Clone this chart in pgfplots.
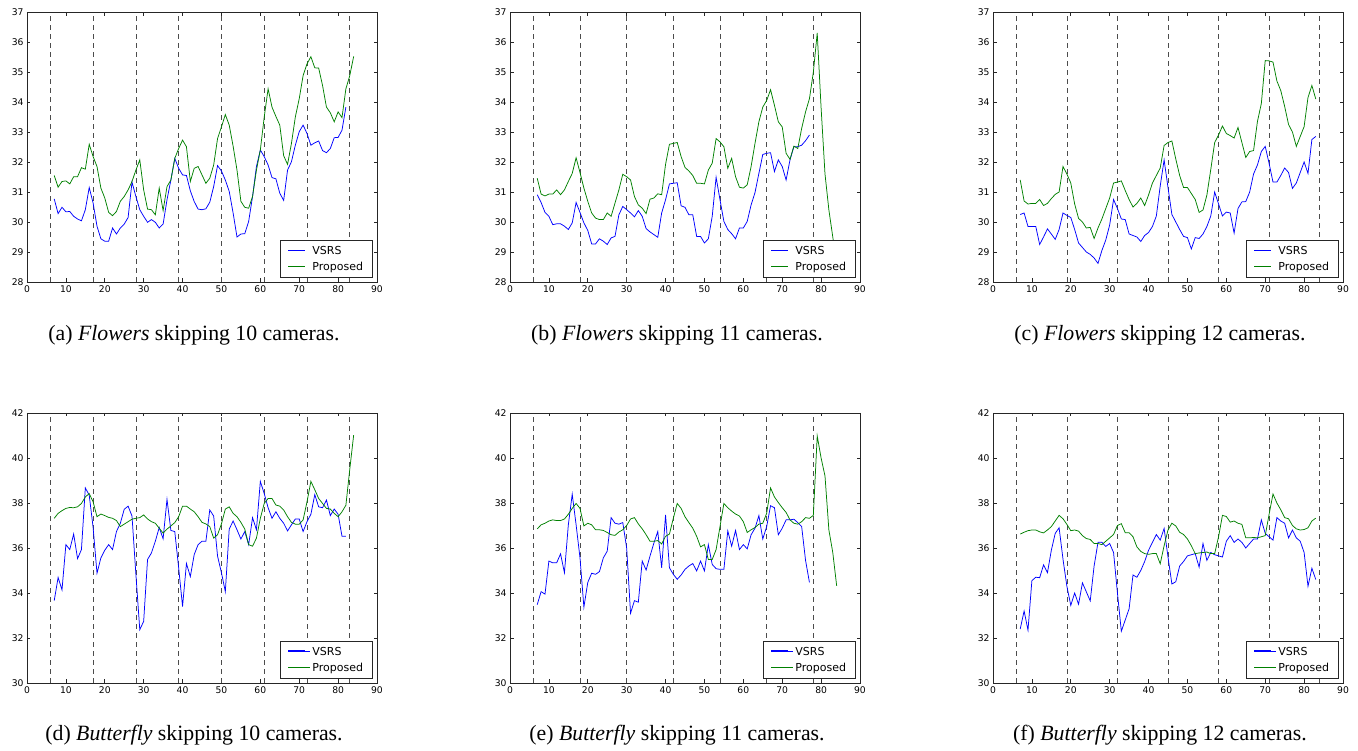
\documentclass[border=0pt]{standalone}
\usepackage{fontspec}
\setmainfont{DejaVu Sans}
\newfontfamily\capfont{Liberation Serif}
\usepackage{pgfplots}
\usepackage{pgfplotstable}
\pgfplotsset{compat=1.18}
\usepgfplotslibrary{groupplots}

\definecolor{vblue}{rgb}{0,0,1}
\definecolor{vgreen}{rgb}{0,0.5,0}
\definecolor{frame}{gray}{0.15}
\definecolor{cutgray}{gray}{0.3}

% Flowers, skipping 10 / 11 / 12 cameras: x, VSRS, Proposed
\pgfplotstableread{
x v p
7 30.77 31.55
8 30.28 31.16
9 30.49 31.35
10 30.34 31.37
11 30.35 31.27
12 30.19 31.51
13 30.10 31.51
14 30.04 31.81
15 30.41 31.76
16 31.15 32.59
17 30.63 32.18
18 29.86 31.85
19 29.44 31.13
20 29.36 30.80
21 29.36 30.32
22 29.80 30.21
23 29.60 30.35
24 29.80 30.69
25 29.93 30.85
26 30.15 31.07
27 31.33 31.35
28 30.85 31.73
29 30.41 32.07
30 30.19 31.07
31 29.99 30.43
32 30.08 30.41
33 29.99 30.24
34 29.80 31.13
35 29.93 30.38
36 30.74 31.18
37 31.40 31.40
38 32.12 32.12
39 31.79 32.45
40 31.57 32.73
41 31.55 32.51
42 31.04 31.35
43 30.68 31.79
44 30.43 31.85
45 30.41 31.57
46 30.44 31.29
47 30.66 31.46
48 31.18 31.90
49 31.88 32.78
50 31.70 33.17
51 31.40 33.58
52 31.02 33.23
53 30.30 32.53
54 29.50 31.73
55 29.60 30.69
56 29.61 30.49
57 30.02 30.46
58 30.85 30.85
59 31.85 31.73
60 32.40 32.40
61 32.18 33.50
62 31.90 34.44
63 31.48 33.83
64 31.44 33.52
65 30.96 33.23
66 30.72 32.21
67 31.73 31.92
68 32.01 32.62
69 32.56 33.50
70 33.01 34.11
71 33.23 34.88
72 32.95 35.27
73 32.56 35.51
74 32.64 35.14
75 32.70 35.13
76 32.38 34.55
77 32.31 33.83
78 32.45 33.64
79 32.81 33.34
80 32.82 33.67
81 33.06 33.48
82 33.83 34.44
83 nan 34.88
84 nan 35.52
}\tabA

\pgfplotstableread{
x v p
7 30.91 31.46
8 30.65 30.93
9 30.32 30.87
10 30.19 30.93
11 29.91 30.93
12 29.94 31.07
13 29.94 30.91
14 29.86 31.07
15 29.75 31.35
16 29.97 31.62
17 30.65 32.14
18 30.32 31.65
19 29.97 31.13
20 29.72 30.69
21 29.27 30.30
22 29.27 30.13
23 29.44 30.08
24 29.36 30.08
25 29.25 30.30
26 29.47 30.19
27 29.52 30.63
28 30.24 31.07
29 30.52 31.59
30 30.41 31.51
31 30.30 31.40
32 30.17 30.85
33 30.38 30.57
34 30.19 30.46
35 29.78 30.28
36 29.67 30.76
37 29.58 30.80
38 29.49 30.94
39 30.30 30.91
40 30.74 31.92
41 31.27 32.59
42 31.29 32.62
43 31.31 32.65
44 30.54 32.18
45 30.49 31.82
46 30.24 31.70
47 30.24 31.55
48 29.52 31.29
49 29.52 31.29
50 29.30 31.27
51 29.44 31.73
52 30.19 31.96
53 31.49 32.78
54 30.74 32.67
55 30.02 32.51
56 29.75 31.79
57 29.61 32.12
58 29.44 31.51
59 29.80 31.16
60 29.80 31.13
61 30.02 31.24
62 30.57 31.85
63 30.98 32.62
64 31.62 33.34
65 32.25 33.83
66 32.29 34.05
67 32.31 34.41
68 31.68 33.89
69 32.07 33.34
70 31.85 33.17
71 31.40 32.29
72 32.07 32.09
73 32.51 32.53
74 32.51 32.45
75 32.56 33.12
76 32.71 33.67
77 32.90 34.11
78 nan 34.99
79 nan 36.30
80 nan 33.80
81 nan 31.60
82 nan 30.40
83 nan 29.50
84 nan 28.60
}\tabB

\pgfplotstableread{
x v p
7 30.25 31.40
8 30.30 30.70
9 29.85 30.60
10 29.85 30.62
11 29.85 30.62
12 29.25 30.75
13 29.50 30.55
14 29.77 30.62
15 29.60 30.78
16 29.42 30.92
17 29.75 31.00
18 30.30 31.85
19 30.22 31.60
20 30.15 31.30
21 29.75 30.60
22 29.30 30.12
23 29.15 30.00
24 29.00 29.80
25 28.92 29.82
26 28.80 29.45
27 28.62 29.80
28 29.05 30.10
29 29.40 30.45
30 29.90 30.80
31 30.75 31.30
32 30.45 31.33
33 30.10 31.37
34 30.08 31.05
35 29.60 30.75
36 29.55 30.50
37 29.50 30.62
38 29.35 30.80
39 29.55 30.55
40 29.65 30.90
41 29.85 31.30
42 30.20 31.55
43 31.20 31.80
44 32.07 32.55
45 31.15 32.65
46 30.25 32.70
47 30.00 32.10
48 29.75 31.55
49 29.52 31.15
50 29.48 31.15
51 29.10 30.95
52 29.48 30.75
53 29.45 30.32
54 29.60 30.40
55 29.85 30.90
56 30.20 31.75
57 31.00 32.65
58 30.60 32.90
59 30.20 33.20
60 30.33 32.95
61 30.30 32.88
62 29.63 32.80
63 30.45 33.15
64 30.67 32.65
65 30.68 32.15
66 31.00 32.35
67 31.60 32.38
68 31.90 33.35
69 32.35 33.95
70 32.52 35.38
71 31.95 35.37
72 31.33 35.33
73 31.33 34.70
74 31.55 34.38
75 31.80 33.85
76 31.65 33.25
77 31.12 33.00
78 31.30 32.52
79 31.65 32.85
80 32.00 33.18
81 31.62 34.15
82 32.75 34.55
83 32.85 34.10
}\tabC

% Butterfly, skipping 10 / 11 / 12 cameras
\pgfplotstableread{
x v p
7 33.66 37.32
8 34.69 37.54
9 34.14 37.66
10 36.15 37.76
11 35.93 37.80
12 36.62 37.79
13 35.53 37.83
14 35.93 37.98
15 38.67 38.27
16 38.35 38.42
17 36.91 38.05
18 34.88 37.39
19 35.56 37.51
20 35.90 37.44
21 36.15 37.36
22 35.93 37.32
23 36.73 37.22
24 37.10 36.95
25 37.72 37.06
26 37.86 37.17
27 37.42 37.28
28 34.83 37.32
29 32.37 37.35
30 32.74 37.47
31 35.49 37.29
32 35.78 37.17
33 36.30 37.10
34 36.91 36.88
35 36.41 36.66
36 38.16 36.84
37 36.78 36.98
38 36.73 37.13
39 35.12 37.39
40 33.40 37.86
41 35.31 37.86
42 34.73 37.73
43 35.71 37.61
44 36.15 37.39
45 36.30 37.14
46 36.30 37.07
47 37.69 36.95
48 37.42 36.44
49 35.64 36.59
50 34.90 37.07
51 34.06 37.73
52 36.84 37.83
53 37.20 37.54
54 36.81 37.39
55 36.40 37.14
56 36.73 36.84
57 36.15 36.15
58 37.35 36.08
59 36.81 36.44
60 38.96 37.32
61 38.42 37.98
62 37.79 38.20
63 37.32 38.20
64 37.61 37.91
65 37.32 37.86
66 37.10 37.69
67 36.76 37.39
68 37.03 37.14
69 37.29 37.06
70 37.29 37.06
71 36.73 37.25
72 37.17 38.05
73 37.50 38.96
74 38.37 38.59
75 37.83 38.20
76 37.79 37.98
77 38.13 37.76
78 37.44 37.73
79 37.73 37.54
80 37.50 37.39
81 36.52 37.61
82 36.52 37.90
83 nan 39.50
84 nan 41.02
}\tabD

\pgfplotstableread{
x v p
7 33.48 36.85
8 34.06 37.03
9 33.95 37.10
10 35.42 37.20
11 35.34 37.25
12 35.34 37.22
13 35.74 37.22
14 34.90 37.29
15 37.03 37.50
16 38.39 37.76
17 37.03 37.98
18 35.56 37.76
19 33.37 36.98
20 34.47 37.10
21 34.88 37.03
22 34.83 36.81
23 34.95 36.81
24 35.56 36.78
25 35.86 36.69
26 37.35 36.59
27 37.10 36.56
28 37.06 36.71
29 37.13 36.81
30 36.00 37.00
31 33.10 37.29
32 33.66 37.35
33 33.59 37.07
34 35.42 36.85
35 35.02 36.59
36 35.64 36.30
37 36.22 36.30
38 36.73 36.33
39 35.12 36.18
40 37.47 36.52
41 35.12 36.62
42 34.83 37.32
43 34.61 37.98
44 34.80 37.76
45 35.05 37.39
46 35.20 37.13
47 35.31 36.88
48 34.98 36.52
49 35.42 36.05
50 34.98 36.15
51 36.15 35.49
52 35.27 35.49
53 35.08 35.93
54 35.05 36.95
55 35.05 37.98
56 36.76 37.79
57 36.08 37.64
58 36.78 37.51
59 35.93 37.42
60 36.15 37.17
61 35.96 36.69
62 36.59 36.81
63 36.88 36.91
64 37.44 37.06
65 36.40 37.10
66 36.95 37.54
67 37.88 38.67
68 37.79 38.27
69 36.59 38.02
70 36.88 37.79
71 37.25 37.58
72 37.25 37.25
73 37.28 37.10
74 37.13 37.06
75 36.95 37.17
76 35.45 37.35
77 34.47 37.32
78 nan 37.45
79 nan 40.98
80 nan 40.00
81 nan 39.20
82 nan 36.80
83 nan 35.80
84 nan 34.32
}\tabE

\pgfplotstableread{
x v p
7 32.40 36.62
8 33.20 36.70
9 32.35 36.77
10 34.55 36.80
11 34.70 36.80
12 34.68 36.72
13 35.25 36.67
14 34.90 36.80
15 35.90 36.95
16 36.65 37.20
17 36.90 37.45
18 35.50 37.30
19 34.30 37.05
20 33.45 36.77
21 34.00 36.80
22 33.50 36.75
23 34.45 36.55
24 34.05 36.42
25 33.65 36.38
26 35.20 36.20
27 36.25 36.20
28 36.25 36.15
29 36.07 36.30
30 36.20 36.45
31 35.80 36.60
32 34.00 37.00
33 32.30 37.08
34 32.80 36.68
35 33.30 36.68
36 34.80 36.50
37 34.70 36.05
38 35.00 35.85
39 35.40 35.75
40 35.90 35.72
41 36.25 35.75
42 36.60 35.75
43 36.35 35.30
44 36.87 36.10
45 35.60 36.80
46 34.40 37.10
47 34.50 36.98
48 35.20 36.70
49 35.40 36.60
50 35.65 36.40
51 35.70 36.10
52 35.75 35.75
53 35.15 35.78
54 36.20 35.80
55 35.45 35.82
56 35.80 35.75
57 35.70 35.75
58 35.65 36.50
59 35.60 37.45
60 36.30 37.40
61 36.55 37.15
62 36.25 37.20
63 36.40 37.10
64 36.25 37.05
65 36.00 36.45
66 36.20 36.45
67 36.40 36.47
68 36.40 36.45
69 37.25 36.50
70 36.65 36.55
71 36.50 37.50
72 36.35 38.40
73 37.35 38.00
74 37.20 37.70
75 37.10 37.35
76 36.45 37.30
77 36.80 37.00
78 36.45 36.85
79 36.30 36.80
80 35.80 36.82
81 34.30 36.90
82 35.10 37.20
83 34.60 37.33
}\tabF

\pgfplotsset{
  vsrs/.style={draw=vblue, line width=0.75pt,
    legend image code/.code={\draw[draw=vblue, line width=0.75pt] (0pt,0pt) -- (17pt,0pt); \path (22pt,0pt);}},
  prop/.style={draw=vgreen, line width=0.75pt,
    legend image code/.code={\draw[draw=vgreen, line width=0.75pt] (0pt,0pt) -- (17pt,0pt); \path (22pt,0pt);}},
  % bottom row: the sample is left blank in the legend and drawn afterwards
  blank/.style={legend image code/.code={\path (0pt,0pt) -- (22pt,0pt);}},
  cut/.style={draw=cutgray, line width=0.75pt, dash pattern=on 5pt off 4pt, forget plot},
}

\begin{document}
\begin{tikzpicture}
\begin{groupplot}[
  group style={group size=3 by 2, horizontal sep=133pt, vertical sep=131pt},
  scale only axis, width=350pt, height=270pt,
  xmin=0, xmax=90, xtick={0,10,...,90},
  axis line style={draw=frame, line width=0.8pt},
  tick style={draw=frame, line width=0.6pt},
  major tick length=3.5pt, tick align=inside,
  ticklabel style={font=\fontsize{9.2}{11}\selectfont},
  /pgf/number format/assume math mode=true,
  legend cell align=left,
  legend style={at={(rel axis cs:0.987,0.015)}, anchor=south east,
    draw=frame, line width=0.8pt, fill=white,
    font=\fontsize{11}{13}\selectfont, inner xsep=7pt, inner ysep=4pt, row sep=2pt},
]
\nextgroupplot[ymin=28, ymax=37, ytick={28,...,37}]
\pgfplotsinvokeforeach{6,17,28,39,50,61,72,83}{\addplot[cut] coordinates {(#1,28) (#1,37)};}
\addplot[vsrs] table[x=x, y=v] {\tabA};
\addlegendentry{VSRS}
\addplot[prop] table[x=x, y=p] {\tabA};
\addlegendentry{Proposed}

\nextgroupplot[ymin=28, ymax=37, ytick={28,...,37}]
\pgfplotsinvokeforeach{6,18,30,42,54,66,78}{\addplot[cut] coordinates {(#1,28) (#1,37)};}
\addplot[vsrs] table[x=x, y=v] {\tabB};
\addlegendentry{VSRS}
\addplot[prop] table[x=x, y=p] {\tabB};
\addlegendentry{Proposed}

\nextgroupplot[ymin=28, ymax=37, ytick={28,...,37}]
\pgfplotsinvokeforeach{6,19,32,45,58,71,84}{\addplot[cut] coordinates {(#1,28) (#1,37)};}
\addplot[vsrs] table[x=x, y=v] {\tabC};
\addlegendentry{VSRS}
\addplot[prop] table[x=x, y=p] {\tabC};
\addlegendentry{Proposed}

\nextgroupplot[ymin=30, ymax=42, ytick={30,32,...,42}]
\pgfplotsinvokeforeach{6,17,28,39,50,61,72,83}{\addplot[cut] coordinates {(#1,30) (#1,42)};}
\addplot[vsrs, blank] table[x=x, y=v] {\tabD};
\addlegendentry{VSRS}
\addplot[prop, blank] table[x=x, y=p] {\tabD};
\addlegendentry{Proposed}

\nextgroupplot[ymin=30, ymax=42, ytick={30,32,...,42}]
\pgfplotsinvokeforeach{6,18,30,42,54,66,78}{\addplot[cut] coordinates {(#1,30) (#1,42)};}
\addplot[vsrs, blank] table[x=x, y=v] {\tabE};
\addlegendentry{VSRS}
\addplot[prop, blank] table[x=x, y=p] {\tabE};
\addlegendentry{Proposed}

\nextgroupplot[ymin=30, ymax=42, ytick={30,32,...,42}]
\pgfplotsinvokeforeach{6,19,32,45,58,71,84}{\addplot[cut] coordinates {(#1,30) (#1,42)};}
\addplot[vsrs, blank] table[x=x, y=v] {\tabF};
\addlegendentry{VSRS}
\addplot[prop, blank] table[x=x, y=p] {\tabF};
\addlegendentry{Proposed}
\end{groupplot}

% legend samples of the bottom row, at the place the top row's samples take
\foreach \g in {c1r2, c2r2, c3r2} {
  \draw[draw=vblue, line width=0.75pt] ([xshift=261pt, yshift=32.5pt]group \g.south west) -- ++(17pt,0pt);
  \draw[draw=vgreen, line width=0.75pt] ([xshift=261pt, yshift=16pt]group \g.south west) -- ++(17pt,0pt);
}

\begin{scope}[every node/.style={font=\capfont\fontsize{21.8}{24}\selectfont, anchor=center}]
\node at ([xshift=167pt, yshift=-53pt]group c1r1.south west) {(a) \textit{Flowers} skipping 10 cameras.};
\node at ([xshift=167pt, yshift=-53pt]group c2r1.south west) {(b) \textit{Flowers} skipping 11 cameras.};
\node at ([xshift=167pt, yshift=-53pt]group c3r1.south west) {(c) \textit{Flowers} skipping 12 cameras.};
\node at ([xshift=167pt, yshift=-52pt]group c1r2.south west) {(d) \textit{Butterfly} skipping 10 cameras.};
\node at ([xshift=167pt, yshift=-52pt]group c2r2.south west) {(e) \textit{Butterfly} skipping 11 cameras.};
\node at ([xshift=167pt, yshift=-52pt]group c3r2.south west) {(f) \textit{Butterfly} skipping 12 cameras.};
\end{scope}

\path[use as bounding box] ([xshift=-27pt, yshift=-469pt]group c1r1.south west) rectangle ++(1358pt, 751pt);
\end{tikzpicture}
\end{document}
